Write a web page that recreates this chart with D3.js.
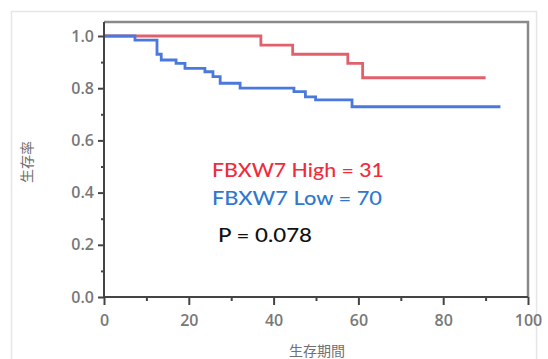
<!DOCTYPE html>
<html>
<head>
<meta charset="utf-8">
<script src="https://cdn.jsdelivr.net/npm/d3@7"></script>
<style>
  body { margin: 0; background: #fff; }
  svg { display: block; }
</style>
</head>
<body>
<div id="chart"></div>
<script>
// Kaplan-Meier curves
const highTimes = [0, 37, 44.5, 57.5, 61, 90];
const highSurv  = [1.0, 0.965, 0.93, 0.895, 0.84, 0.84];

const lowTimes = [0, 7.3, 12.5, 13.5, 17, 19.1, 23.8, 25.7, 27.4, 32.1, 44.8, 47.5, 49.9, 58.5, 93.5];
const lowSurv  = [1.0, 0.984, 0.93, 0.908, 0.895, 0.876, 0.863, 0.844, 0.819, 0.80, 0.787, 0.767, 0.755, 0.729, 0.729];

const xTicks = [0, 20, 40, 60, 80, 100];
const yTicks = [0, 0.2, 0.4, 0.6, 0.8, 1.0];
const xMinor = [10, 30, 50, 70, 90];
const yMinor = [0.1, 0.3, 0.5, 0.7, 0.9];

const labels = ["FBXW7 High = 31", "FBXW7 Low = 70", "P = 0.078"];

const width = 548, height = 359;
const svg = d3.select("#chart").append("svg")
  .attr("width", width)
  .attr("height", height);

// outer light frame
svg.append("rect")
  .attr("x", 11.5).attr("y", 11.5)
  .attr("width", 525).attr("height", 360)
  .attr("fill", "none")
  .attr("stroke", "#e6e6e6")
  .attr("stroke-width", 1.5);

const x = d3.scaleLinear().domain([0, 100]).range([104, 528]);
const y = d3.scaleLinear().domain([0, 1]).range([297, 36]);
const plotTop = 22;

// plot frame top/right
svg.append("path")
  .attr("d", `M${x(0)},${plotTop}H${x(100)}V${y(0)}`)
  .attr("fill", "none")
  .attr("stroke", "#8a8a8a")
  .attr("stroke-width", 2.5);

const stepLine = d3.line()
  .x(d => x(d[0]))
  .y(d => y(d[1]))
  .curve(d3.curveStepAfter);

svg.append("path")
  .datum(d3.zip(highTimes, highSurv))
  .attr("d", stepLine)
  .attr("fill", "none")
  .attr("stroke", "#e0606c")
  .attr("stroke-width", 2.8);

svg.append("path")
  .datum(d3.zip(lowTimes, lowSurv))
  .attr("d", stepLine)
  .attr("fill", "none")
  .attr("stroke", "#4a78dc")
  .attr("stroke-width", 2.8);

// axes
svg.append("g")
  .attr("transform", `translate(0,${y(0)})`)
  .call(d3.axisBottom(x).tickValues(xTicks).tickFormat(d3.format("d")).tickSize(8).tickPadding(10));
svg.append("g")
  .attr("transform", `translate(0,${y(0)})`)
  .call(d3.axisBottom(x).tickValues(xMinor).tickFormat("").tickSize(4));

svg.append("g")
  .attr("transform", `translate(${x(0)},0)`)
  .call(d3.axisLeft(y).tickValues(yTicks).tickFormat(d3.format(".1f")).tickSize(6).tickPadding(4));
svg.append("g")
  .attr("transform", `translate(${x(0)},0)`)
  .call(d3.axisLeft(y).tickValues(yMinor).tickFormat("").tickSize(3));

svg.selectAll(".domain").remove();
svg.append("line")
  .attr("x1", x(0)).attr("x2", x(0))
  .attr("y1", plotTop).attr("y2", y(0))
  .attr("stroke", "#444").attr("stroke-width", 2);
svg.append("line")
  .attr("x1", x(0)).attr("x2", x(100))
  .attr("y1", y(0)).attr("y2", y(0))
  .attr("stroke", "#444").attr("stroke-width", 2);

svg.selectAll(".tick line").attr("stroke", "#444").attr("stroke-width", 2);
svg.selectAll(".tick text")
  .attr("font-family", "'Open Sans', sans-serif")
  .attr("font-size", 16)
  .attr("font-weight", 600)
  .attr("fill", "#787878");

// axis titles
svg.append("text")
  .attr("transform", "translate(32,162) rotate(-90)")
  .attr("text-anchor", "middle")
  .attr("font-family", "'Noto Sans CJK JP', sans-serif")
  .attr("font-size", 14)
  .attr("fill", "#707070")
  .text("生存率");

svg.append("text")
  .attr("x", 317).attr("y", 356)
  .attr("text-anchor", "middle")
  .attr("font-family", "'Noto Sans CJK JP', sans-serif")
  .attr("font-size", 14)
  .attr("fill", "#707070")
  .text("生存期間");

// annotations
const notes = [
  { t: labels[0], x: 212, y: 177, c: "#f02c3c", w: 172 },
  { t: labels[1], x: 212, y: 205, c: "#2f78d0", w: 170 },
  { t: labels[2], x: 218, y: 242, c: "#111", w: 94 }
];
svg.selectAll(".note")
  .data(notes)
  .enter().append("text")
  .attr("class", "note")
  .attr("x", d => d.x)
  .attr("y", d => d.y)
  .attr("fill", d => d.c)
  .attr("font-family", "Lato, 'Open Sans', sans-serif")
  .attr("font-size", 20)
  .attr("font-weight", 500)
  .attr("textLength", d => d.w)
  .attr("lengthAdjust", "spacingAndGlyphs")
  .text(d => d.t);
</script>
</body>
</html>
